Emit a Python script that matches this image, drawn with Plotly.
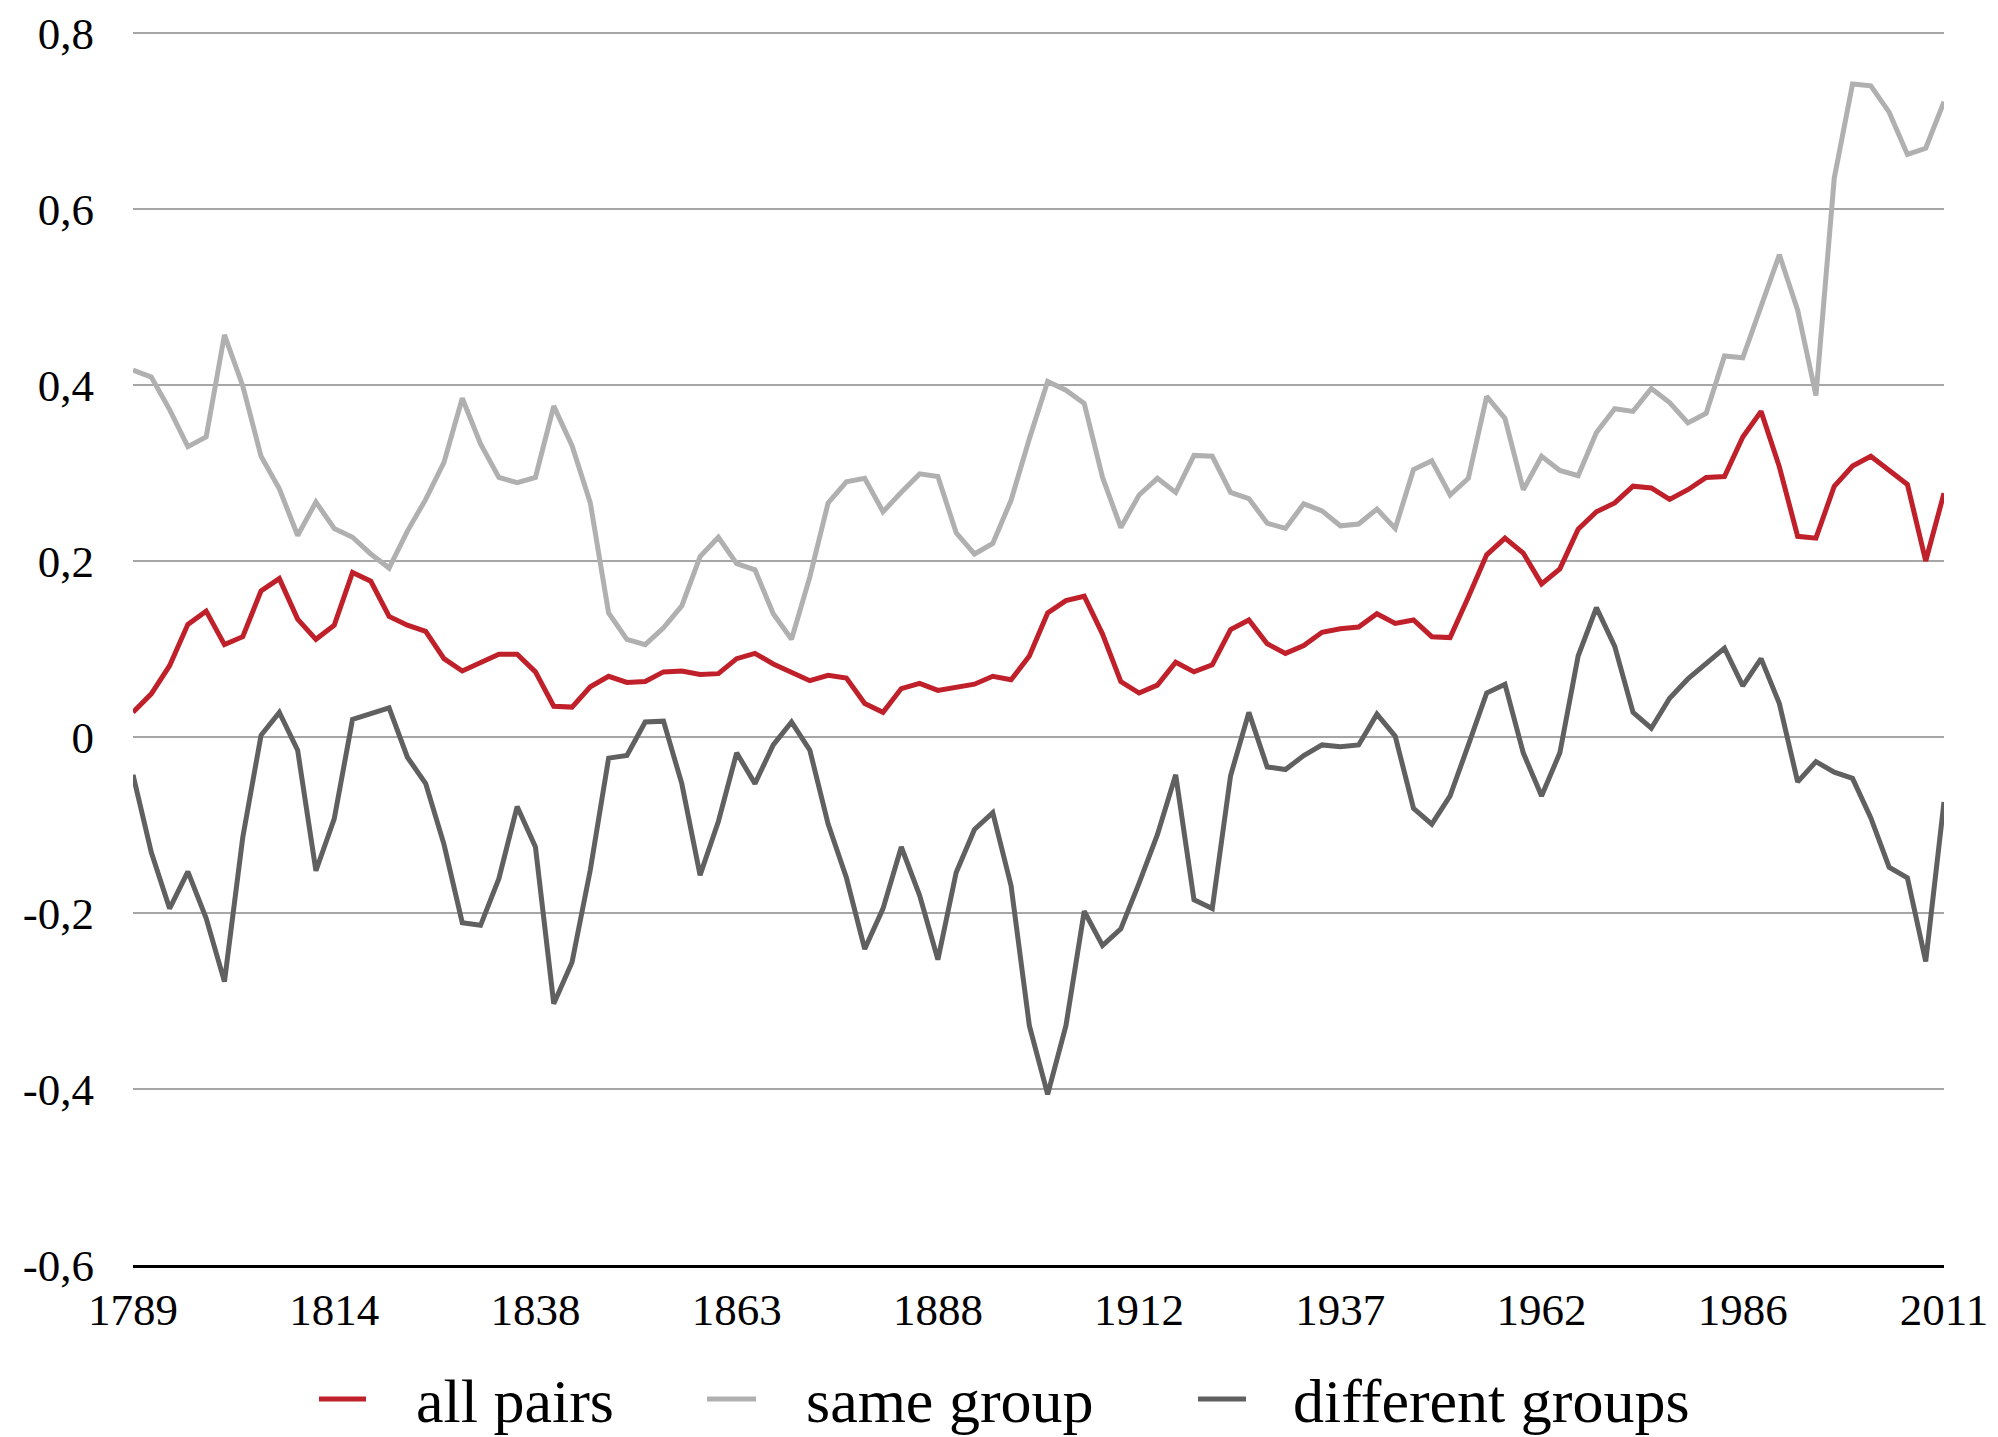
import plotly.graph_objects as go

year_labels = ["1789", "1814", "1838", "1863", "1888", "1912", "1937", "1962", "1986", "2011"]
series_names = ["all pairs", "same group", "different groups"]

all_pairs = [
    0.028, 0.049, 0.081, 0.128, 0.143, 0.105, 0.114, 0.166, 0.180, 0.134,
    0.111, 0.127, 0.187, 0.177, 0.137, 0.127, 0.120, 0.089, 0.075, 0.085,
    0.094, 0.094, 0.074, 0.035, 0.034, 0.057, 0.069, 0.062, 0.063, 0.074,
    0.075, 0.071, 0.072, 0.089, 0.095, 0.083, 0.073, 0.064, 0.070, 0.067,
    0.038, 0.028, 0.055, 0.061, 0.053, 0.057, 0.060, 0.069, 0.065, 0.092,
    0.141, 0.155, 0.160, 0.117, 0.063, 0.050, 0.059, 0.085, 0.074, 0.082,
    0.122, 0.133, 0.106, 0.095, 0.104, 0.119, 0.123, 0.125, 0.140, 0.129,
    0.133, 0.114, 0.113, 0.159, 0.207, 0.226, 0.209, 0.174, 0.191, 0.236,
    0.256, 0.266, 0.285, 0.283, 0.270, 0.281, 0.295, 0.296, 0.341, 0.370,
    0.307, 0.228, 0.226, 0.285, 0.308, 0.319, 0.303, 0.287, 0.200, 0.277,
]

same_group = [
    0.417, 0.409, 0.372, 0.330, 0.341, 0.457, 0.399, 0.319, 0.282, 0.229,
    0.267, 0.237, 0.227, 0.208, 0.192, 0.234, 0.270, 0.312, 0.385, 0.333,
    0.295, 0.289, 0.295, 0.376, 0.331, 0.266, 0.141, 0.111, 0.105, 0.124,
    0.149, 0.205, 0.227, 0.197, 0.190, 0.140, 0.111, 0.182, 0.266, 0.290,
    0.294, 0.256, 0.278, 0.299, 0.296, 0.232, 0.208, 0.220, 0.269, 0.339,
    0.404, 0.394, 0.379, 0.295, 0.238, 0.275, 0.294, 0.278, 0.320, 0.319,
    0.278, 0.271, 0.243, 0.237, 0.265, 0.257, 0.240, 0.242, 0.259, 0.237,
    0.304, 0.314, 0.275, 0.294, 0.387, 0.362, 0.281, 0.319, 0.303, 0.297,
    0.346, 0.373, 0.370, 0.396, 0.380, 0.357, 0.368, 0.433, 0.431, 0.491,
    0.548, 0.485, 0.388, 0.635, 0.742, 0.740, 0.710, 0.662, 0.669, 0.722,
]

different_groups = [
    -0.043, -0.131, -0.195, -0.153, -0.206, -0.278, -0.114, 0.002, 0.028, -0.015,
    -0.152, -0.093, 0.020, 0.026, 0.033, -0.023, -0.053, -0.122, -0.211, -0.214,
    -0.161, -0.079, -0.125, -0.303, -0.256, -0.151, -0.024, -0.021, 0.017, 0.018,
    -0.053, -0.157, -0.096, -0.018, -0.053, -0.009, 0.017, -0.015, -0.099, -0.160,
    -0.241, -0.195, -0.125, -0.180, -0.253, -0.154, -0.105, -0.086, -0.169, -0.328,
    -0.406, -0.328, -0.198, -0.237, -0.218, -0.166, -0.111, -0.043, -0.185, -0.195,
    -0.044, 0.028, -0.034, -0.037, -0.021, -0.009, -0.011, -0.009, 0.026, 0.001,
    -0.081, -0.099, -0.067, -0.009, 0.050, 0.060, -0.018, -0.067, -0.018, 0.092,
    0.147, 0.103, 0.028, 0.010, 0.044, 0.066, 0.083, 0.101, 0.058, 0.089,
    0.038, -0.051, -0.028, -0.040, -0.047, -0.092, -0.148, -0.160, -0.255, -0.074,
]

y_tick_values = [-0.6, -0.4, -0.2, 0.0, 0.2, 0.4, 0.6, 0.8]
y_tick_labels = ["-0,6", "-0,4", "-0,2", "0", "0,2", "0,4", "0,6", "0,8"]

colors = ["#C0202A", "#B0B0B0", "#606060"]
widths = [5, 5, 5]
series = [all_pairs, same_group, different_groups]

n = len(all_pairs)
xs = list(range(n))
step = (n - 1) / (len(year_labels) - 1)
x_tick_positions = [round(k * step) for k in range(len(year_labels))]

FONT = "Liberation Serif, Times New Roman, serif"

# the page body adds an 8px offset; work in screen pixels and subtract it
OFF = 8
W, H = 1998 - OFF, 1437 - OFF
left_px, right_px, top_px, bottom_px = 133 - OFF, 1944 - OFF, 33 - OFF, 1265 - OFF
ML, MR, MB = left_px, W - right_px, H - bottom_px
MT = top_px - 3
PW, PH = W - ML - MR, H - MT - MB
px_per_unit = (bottom_px - top_px) / 1.4
y_top = 0.8 + (top_px - MT) / px_per_unit

fig = go.Figure()
for name, vals, c, w in zip(series_names, series, colors, widths):
    fig.add_trace(go.Scatter(x=xs, y=vals, mode="lines", name=name,
                             line=dict(color=c, width=w)))

def px_x(p):
    return (p - OFF - ML) / PW

def px_y(p):
    return (H - MB - (p - OFF)) / PH

# legend (screen pixel positions)
legend_line_px = [(319, 366), (707, 756), (1198, 1246)]
legend_text_px = [414, 804, 1291]
legend_y_px = 1399
for name, c, (x0, x1), tx in zip(series_names, colors, legend_line_px, legend_text_px):
    fig.add_shape(type="line", xref="paper", yref="paper",
                  x0=px_x(x0), x1=px_x(x1), y0=px_y(legend_y_px), y1=px_y(legend_y_px),
                  line=dict(color=c, width=5))
    fig.add_annotation(xref="paper", yref="paper", x=px_x(tx), y=px_y(legend_y_px + 2),
                       xanchor="left", yanchor="middle", showarrow=False,
                       text=name, font=dict(family=FONT, size=62, color="black"))

fig.update_layout(
    width=W, height=H,
    margin=dict(l=ML, r=MR, t=MT, b=MB, autoexpand=False),
    paper_bgcolor="white", plot_bgcolor="white",
    font=dict(family=FONT, size=45, color="black"),
    showlegend=False,
)
fig.update_xaxes(range=[0, n - 1], tickmode="array", tickvals=x_tick_positions,
                 ticktext=year_labels, showgrid=False, zeroline=False,
                 showline=True, linecolor="black", linewidth=3,
                 ticks="", ticklabelstandoff=3)
fig.update_yaxes(range=[-0.6, y_top], tickmode="array", tickvals=y_tick_values,
                 ticktext=y_tick_labels, showgrid=True, gridcolor="#A6A6A6",
                 gridwidth=2, zeroline=False, showline=False, ticks="",
                 ticklabelstandoff=38)

fig.write_html("out.html")
